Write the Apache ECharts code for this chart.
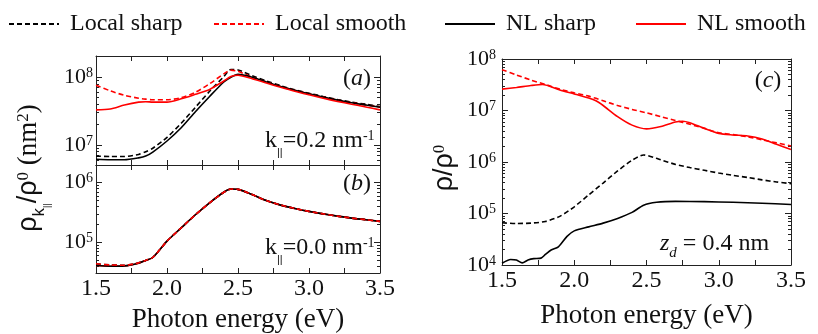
<!DOCTYPE html>
<html>
<head>
<meta charset="utf-8">
<script src="https://cdn.jsdelivr.net/npm/echarts@6/dist/echarts.min.js"></script>
<style>
  html, body { margin: 0; padding: 0; background: #fff; }
  #chart { width: 818px; height: 334px; }
</style>
</head>
<body>
<div id="chart"></div>
<script>
// photon energy grid of panels (a) and (b)
const energyAB = [1.5, 1.6, 1.7, 1.8, 1.85, 1.9, 2.0, 2.1, 2.2, 2.3, 2.4, 2.45, 2.5, 2.6, 2.7, 2.8, 2.9, 3.0, 3.1, 3.2, 3.3, 3.4, 3.5];

// (a) k=0.2 nm^-1
const aLocalSharp  = [6.9e6, 6.8e6, 6.8e6, 7.3e6, 8.0e6, 9.0e6, 1.3e7, 2.1e7, 3.6e7, 6.2e7, 1.02e8, 1.3e8, 1.28e8, 1.05e8, 8.8e7, 7.5e7, 6.5e7, 5.8e7, 5.2e7, 4.7e7, 4.3e7, 4.0e7, 3.7e7];
const aLocalSmooth = [7.6e7, 6.3e7, 5.4e7, 4.9e7, 4.75e7, 4.65e7, 4.65e7, 5.0e7, 6.0e7, 8.0e7, 1.12e8, 1.27e8, 1.22e8, 1.0e8, 8.5e7, 7.3e7, 6.4e7, 5.7e7, 5.1e7, 4.6e7, 4.2e7, 3.9e7, 3.65e7];
const aNLSharp     = [6.2e6, 6.1e6, 6.1e6, 6.5e6, 6.9e6, 7.9e6, 1.15e7, 1.8e7, 3.1e7, 5.2e7, 8.5e7, 1.0e8, 1.1e8, 1.0e8, 8.5e7, 7.3e7, 6.4e7, 5.7e7, 5.1e7, 4.6e7, 4.2e7, 3.9e7, 3.6e7];
const aNLSmooth    = [3.3e7, 3.4e7, 3.9e7, 4.3e7, 4.35e7, 4.3e7, 4.3e7, 4.8e7, 5.6e7, 6.6e7, 8.8e7, 1.02e8, 1.07e8, 9.5e7, 8.2e7, 7.1e7, 6.2e7, 5.5e7, 4.9e7, 4.4e7, 4.0e7, 3.65e7, 3.3e7];

// (b) k=0.0 nm^-1 (local and nonlocal almost on top of each other)
const bLocal = [4.4e4, 4.2e4, 4.15e4, 4.55e4, 5.0e4, 5.6e4, 1.05e5, 1.75e5, 2.9e5, 4.6e5, 6.9e5, 7.8e5, 7.7e5, 6.3e5, 5.0e5, 4.2e5, 3.7e5, 3.3e5, 3.0e5, 2.75e5, 2.55e5, 2.4e5, 2.25e5];
const bNL    = [4.1e4, 4.0e4, 4.05e4, 4.5e4, 5.0e4, 5.6e4, 1.05e5, 1.75e5, 2.9e5, 4.6e5, 6.9e5, 7.8e5, 7.7e5, 6.3e5, 5.0e5, 4.2e5, 3.7e5, 3.3e5, 3.0e5, 2.75e5, 2.55e5, 2.4e5, 2.25e5];

// (c) z_d = 0.4 nm
const cLocalSmoothE = [1.5, 1.6, 1.7, 1.8, 1.9, 2.0, 2.1, 2.2, 2.3, 2.4, 2.5, 2.6, 2.7, 2.8, 2.9, 3.0, 3.1, 3.2, 3.3, 3.4, 3.5];
const cLocalSmooth  = [6.2e7, 4.9e7, 3.9e7, 3.2e7, 2.6e7, 2.2e7, 1.9e7, 1.55e7, 1.25e7, 1.05e7, 9.0e6, 7.6e6, 6.4e6, 5.4e6, 4.5e6, 3.7e6, 3.4e6, 3.1e6, 2.7e6, 2.35e6, 2.05e6];
const cNLSmoothE = [1.5, 1.6, 1.7, 1.78, 1.9, 2.0, 2.1, 2.15, 2.2, 2.3, 2.4, 2.5, 2.6, 2.7, 2.75, 2.8, 2.9, 3.0, 3.1, 3.2, 3.3, 3.4, 3.5];
const cNLSmooth  = [2.6e7, 2.8e7, 3.05e7, 3.2e7, 2.5e7, 2.1e7, 1.75e7, 1.55e7, 1.25e7, 7.6e6, 5.2e6, 4.4e6, 4.9e6, 6.0e6, 6.2e6, 5.8e6, 4.5e6, 3.6e6, 3.35e6, 3.2e6, 2.8e6, 2.2e6, 1.75e6];
const cLocalSharpE = [1.5, 1.6, 1.7, 1.8, 1.9, 2.0, 2.1, 2.2, 2.3, 2.4, 2.48, 2.6, 2.7, 2.8, 2.9, 3.0, 3.1, 3.2, 3.3, 3.4, 3.5];
const cLocalSharp  = [6.6e4, 6.4e4, 6.5e4, 7.0e4, 8.8e4, 1.35e5, 2.3e5, 3.9e5, 6.7e5, 1.08e6, 1.37e6, 1.1e6, 9.0e5, 7.8e5, 6.9e5, 6.1e5, 5.5e5, 5.0e5, 4.5e5, 4.1e5, 3.8e5];
const cNLSharpE = [1.5, 1.56, 1.6, 1.64, 1.68, 1.72, 1.77, 1.8, 1.84, 1.89, 1.95, 2.0, 2.1, 2.2, 2.3, 2.4, 2.48, 2.57, 2.7, 2.9, 3.1, 3.3, 3.5];
const cNLSharp  = [1.08e4, 1.28e4, 1.25e4, 1.1e4, 1.25e4, 1.33e4, 1.36e4, 1.6e4, 1.95e4, 2.25e4, 3.6e4, 4.6e4, 5.5e4, 6.5e4, 8.0e4, 1.05e5, 1.45e5, 1.65e5, 1.72e5, 1.7e5, 1.65e5, 1.58e5, 1.5e5];

const names = ['Local sharp', 'Local smooth', 'NL sharp', 'NL smooth'];

const serif = 'Liberation Serif';
const sans = 'Liberation Sans';
const axisColor = '#222';
const RED = '#ff0000';

const zip = (xs, ys) => xs.map((x, i) => [x, ys[i]]);

// tick values of a log axis (powers of ten, and 2..9 between them)
function powers(lo, hi) {
  const out = [];
  for (let e = Math.ceil(Math.log10(lo) - 1e-9); Math.pow(10, e) <= hi * 1.0001; e++) out.push(Math.pow(10, e));
  return out;
}
function minors(lo, hi) {
  const out = [];
  for (let e = Math.floor(Math.log10(lo)); e <= Math.ceil(Math.log10(hi)); e++) {
    for (let m = 2; m <= 9; m++) {
      const v = m * Math.pow(10, e);
      if (v > lo && v < hi) out.push(v);
    }
  }
  return out;
}

const supLabel = {
  b: { fontSize: 22, fontFamily: serif, color: '#111', verticalAlign: 'top', lineHeight: 22 },
  s: { fontSize: 14, fontFamily: serif, color: '#111', verticalAlign: 'top', lineHeight: 14 }
};

function yAxes(grid, lo, hi, margin) {
  const major = powers(lo, hi), minor = minors(lo, hi);
  const base = { type: 'log', gridIndex: grid, min: lo, max: hi, splitLine: { show: false } };
  const line = { show: true, onZero: false, lineStyle: { color: axisColor, width: 1 } };
  return [
    Object.assign({}, base, {
      position: 'left', axisLine: line,
      axisTick: { inside: true, length: 6, customValues: major, lineStyle: { color: axisColor } },
      axisLabel: {
        customValues: major, margin: margin,
        formatter: v => '{b|10}{s|' + Math.round(Math.log10(v)) + '}',
        rich: supLabel
      }
    }),
    Object.assign({}, base, {
      position: 'left', axisLine: { show: false },
      axisTick: { inside: true, length: 3, customValues: minor, lineStyle: { color: axisColor } },
      axisLabel: { show: false }
    }),
    Object.assign({}, base, {
      position: 'right', axisLine: line,
      axisTick: { inside: true, length: 6, customValues: major, lineStyle: { color: axisColor } },
      axisLabel: { show: false }
    }),
    Object.assign({}, base, {
      position: 'right', axisLine: { show: false },
      axisTick: { inside: true, length: 3, customValues: minor, lineStyle: { color: axisColor } },
      axisLabel: { show: false }
    })
  ];
}

function xAxes(grid, labels, nameGap) {
  const base = {
    type: 'value', gridIndex: grid, min: 1.5, max: 3.5, interval: 0.5,
    splitLine: { show: false },
    axisLine: { show: true, onZero: false, lineStyle: { color: axisColor, width: 1 } },
    axisTick: { inside: true, length: 5, lineStyle: { color: axisColor } },
    minorTick: { show: true, splitNumber: 2, length: 5, lineStyle: { color: axisColor } }
  };
  const bottom = Object.assign({}, base, {
    position: 'bottom',
    axisLabel: { show: labels, margin: 4, fontSize: 24, fontFamily: serif, color: '#111', formatter: v => v.toFixed(1) }
  });
  if (labels) {
    Object.assign(bottom, {
      name: 'Photon energy (eV)', nameLocation: 'middle', nameGap: nameGap,
      nameTextStyle: { fontSize: 27, fontFamily: serif, color: '#111' }
    });
  }
  const top = Object.assign({}, base, { position: 'top', axisLabel: { show: false } });
  return [bottom, top];
}

function line(name, data, xi, yi, dashed, color) {
  return {
    type: 'line', name: name, data: data, xAxisIndex: xi, yAxisIndex: yi,
    symbol: 'none', showSymbol: false, smooth: 0.25,
    lineStyle: { color: color, width: 1.6, type: dashed ? [5, 3] : 'solid' },
    itemStyle: { color: color }
  };
}

const series = [
  line(names[0], zip(energyAB, aLocalSharp), 0, 0, true, '#000'),
  line(names[1], zip(energyAB, aLocalSmooth), 0, 0, true, RED),
  line(names[2], zip(energyAB, aNLSharp), 0, 0, false, '#000'),
  line(names[3], zip(energyAB, aNLSmooth), 0, 0, false, RED),

  line(names[3], zip(energyAB, bNL), 2, 4, false, RED),
  line(names[0], zip(energyAB, bLocal), 2, 4, true, '#000'),
  line(names[2], zip(energyAB, bNL), 2, 4, false, '#000'),
  line(names[1], zip(energyAB, bLocal), 2, 4, true, RED),

  line(names[0], zip(cLocalSharpE, cLocalSharp), 4, 8, true, '#000'),
  line(names[1], zip(cLocalSmoothE, cLocalSmooth), 4, 8, true, RED),
  line(names[2], zip(cNLSharpE, cNLSharp), 4, 8, false, '#000'),
  line(names[3], zip(cNLSmoothE, cNLSmooth), 4, 8, false, RED)
];

// one legend per item so each one sits where it is in the figure
const legendLeft = [3, 208, 439, 630];
const legends = names.map((n, i) => ({
  data: [n], left: legendLeft[i], top: 7, orient: 'horizontal',
  itemWidth: 50, itemHeight: 14, selectedMode: false,
  itemStyle: { opacity: 0 },
  textStyle: { fontSize: 24, fontFamily: serif, color: '#111', padding: [0, 0, 0, 6] }
}));

const txt = { fontSize: 24, fontFamily: serif, fill: '#111' };
function richText(x, y, text, rich, align, rot) {
  return {
    type: 'text', x: x, y: y, rotation: rot || 0, z: 100,
    style: Object.assign({}, txt, {
      text: text, rich: rich,
      align: align || 'left', verticalAlign: 'middle',
      textAlign: align || 'left', textVerticalAlign: 'middle'
    })
  };
}
const annRich = {
  n: { fontSize: 24, fontFamily: serif, fill: '#111', verticalAlign: 'top', lineHeight: 24 },
  i: { fontSize: 24, fontFamily: serif, fontStyle: 'italic', fill: '#111', verticalAlign: 'top', lineHeight: 24 },
  sub: { fontSize: 11, fontFamily: sans, fill: '#111', verticalAlign: 'top', lineHeight: 11, padding: [18, 0, 0, 0] },
  subi: { fontSize: 15, fontFamily: serif, fontStyle: 'italic', fill: '#111', verticalAlign: 'top', lineHeight: 15, padding: [14, 0, 0, 0] },
  sup: { fontSize: 14, fontFamily: serif, fill: '#111', verticalAlign: 'top', lineHeight: 14 }
};
const titleRich = {
  r: { fontSize: 27, fontFamily: sans, fill: '#111', verticalAlign: 'top', lineHeight: 30 },
  n: { fontSize: 27, fontFamily: serif, fill: '#111', verticalAlign: 'top', lineHeight: 30 },
  sub: { fontSize: 17, fontFamily: sans, fill: '#111', verticalAlign: 'top', lineHeight: 17, padding: [16, 0, 0, 0] },
  subsub: { fontSize: 9, fontFamily: sans, fill: '#111', verticalAlign: 'top', lineHeight: 9, padding: [28, 0, 0, 0] },
  sup: { fontSize: 17, fontFamily: serif, fill: '#111', verticalAlign: 'top', lineHeight: 17 }
};

const graphic = [
  richText(357, 79, '{n|(}{i|a}{n|)}', annRich, 'center'),
  richText(357, 184, '{n|(}{i|b}{n|)}', annRich, 'center'),
  richText(768, 81, '{n|(}{i|c}{n|)}', annRich, 'center'),
  richText(265, 141, '{n|k}{sub|||}{n|=0.2 nm}{sup|-1}', annRich, 'left'),
  richText(265, 248, '{n|k}{sub|||}{n|=0.0 nm}{sup|-1}', annRich, 'left'),
  richText(660, 244, '{i|z}{subi|d}{n| = 0.4 nm}', annRich, 'left'),
  richText(30, 168, '{r|ρ}{sub|k}{subsub|||}{r|/ρ}{sup|0}{n| (nm}{sup|2}{n|)}', titleRich, 'center', Math.PI / 2),
  richText(446, 168, '{r|ρ/ρ}{sup|0}', titleRich, 'center', Math.PI / 2)
];

const chart = echarts.init(document.getElementById('chart'), null, { renderer: 'canvas' });
chart.setOption({
  animation: false,
  backgroundColor: '#fff',
  legend: legends,
  grid: [
    { left: 96, top: 56, width: 284, height: 109 },
    { left: 96, top: 165, width: 284, height: 108 },
    { left: 502, top: 59, width: 289, height: 211 }
  ],
  xAxis: [].concat(xAxes(0, false), xAxes(1, true, 33), xAxes(2, true, 37)),
  yAxis: [].concat(yAxes(0, 5.1e6, 2.05e8, 3), yAxes(1, 3.08e4, 1.97e6, 3), yAxes(2, 1e4, 1e8, 6)),
  series: series,
  graphic: graphic
});
</script>
</body>
</html>
